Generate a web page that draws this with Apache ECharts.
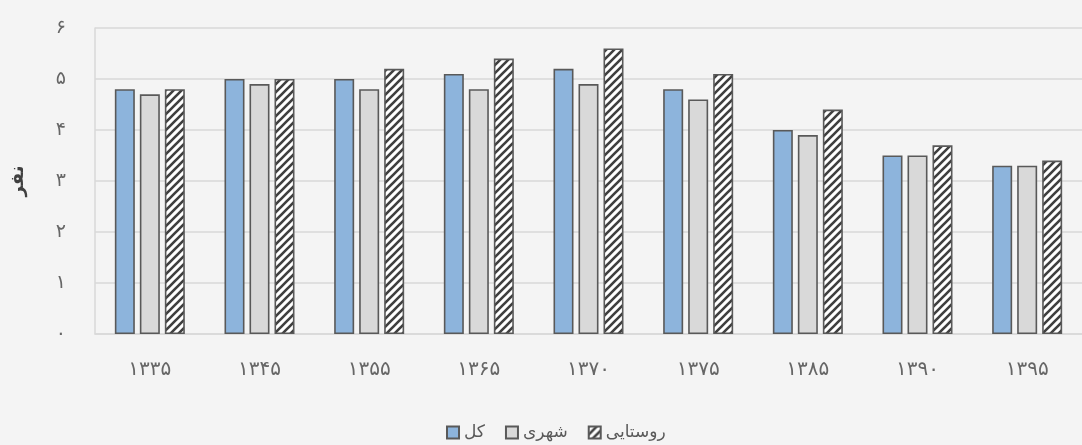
<!DOCTYPE html>
<html>
<head>
<meta charset="utf-8">
<script src="https://cdn.jsdelivr.net/npm/echarts@6/dist/echarts.min.js"></script>
<style>
  html, body { margin:0; padding:0; background:#f4f4f4; }
  #main { width:1082px; height:445px; }
</style>
</head>
<body>
<div id="main"></div>
<script>
  // سال‌ها
  var years = ['۱۳۳۵','۱۳۴۵','۱۳۵۵','۱۳۶۵','۱۳۷۰','۱۳۷۵','۱۳۸۵','۱۳۹۰','۱۳۹۵'];
  var kol      = [4.8, 5.0, 5.0, 5.1, 5.2, 4.8, 4.0, 3.5, 3.3];
  var shahri   = [4.7, 4.9, 4.8, 4.8, 4.9, 4.6, 3.9, 3.5, 3.3];
  var roostaei = [4.8, 5.0, 5.2, 5.4, 5.6, 5.1, 4.4, 3.7, 3.4];
  var yTicks = [0, 1, 2, 3, 4, 5, 6];

  var faDigits = '۰۱۲۳۴۵۶۷۸۹';
  function toFa(n){
    return String(n).replace(/[0-9]/g, function(d){ return faDigits[+d]; });
  }

  // الگوی هاشور مورب
  function hatch(){
    var c = document.createElement('canvas');
    c.width = 8; c.height = 8;
    var ctx = c.getContext('2d');
    ctx.fillStyle = '#ffffff';
    ctx.fillRect(0,0,8,8);
    ctx.strokeStyle = '#3f3f3f';
    ctx.lineWidth = 2.6;
    ctx.beginPath();
    ctx.moveTo(-2,10); ctx.lineTo(10,-2);
    ctx.moveTo(-2,2); ctx.lineTo(2,-2);
    ctx.moveTo(6,10); ctx.lineTo(10,6);
    ctx.stroke();
    return c;
  }

  var myChart = echarts.init(document.getElementById('main'));
  var border = { borderColor:'#595959', borderWidth:1.6 };

  myChart.setOption({
    backgroundColor:'#f4f4f4',
    textStyle:{ fontFamily:'DejaVu Sans, sans-serif' },
    animation:false,
    grid:{ left:95, right:-11, top:28, bottom:111 },
    legend:{
      data:['کل','شهری','روستایی'],
      top:419,
      left:441,
      icon:'rect',
      itemWidth:12,
      itemHeight:12,
      itemGap:20,
      textStyle:{ color:'#595959', fontSize:17 }
    },
    xAxis:{
      type:'category',
      data:years,
      axisLine:{ lineStyle:{ color:'#d9d9d9', width:1.5 } },
      axisTick:{ show:false },
      axisLabel:{ color:'#666666', fontSize:20, margin:26 }
    },
    yAxis:{
      type:'value',
      min:yTicks[0],
      max:yTicks[yTicks.length-1],
      interval:1,
      name:'نفر',
      nameLocation:'middle',
      nameRotate:90,
      nameGap:68,
      nameTextStyle:{ color:'#404040', fontSize:18, fontWeight:'bold' },
      axisLine:{ show:true, lineStyle:{ color:'#d9d9d9', width:1.5 } },
      axisTick:{ show:false },
      splitLine:{ lineStyle:{ color:'#d9d9d9', width:1.5 } },
      axisLabel:{ color:'#666666', fontSize:19, margin:29, formatter:function(v){ return toFa(v); } }
    },
    series:[
      { name:'کل', type:'bar', data:kol, barWidth:20, barGap:'25%',
        itemStyle:Object.assign({ color:'#8db4dc' }, border) },
      { name:'شهری', type:'bar', data:shahri, barWidth:20, barGap:'25%',
        itemStyle:Object.assign({ color:'#d9d9d9' }, border) },
      { name:'روستایی', type:'bar', data:roostaei, barWidth:20, barGap:'25%',
        itemStyle:Object.assign({ color:{ image:hatch(), repeat:'repeat' } }, border) }
    ]
  });
</script>
</body>
</html>
